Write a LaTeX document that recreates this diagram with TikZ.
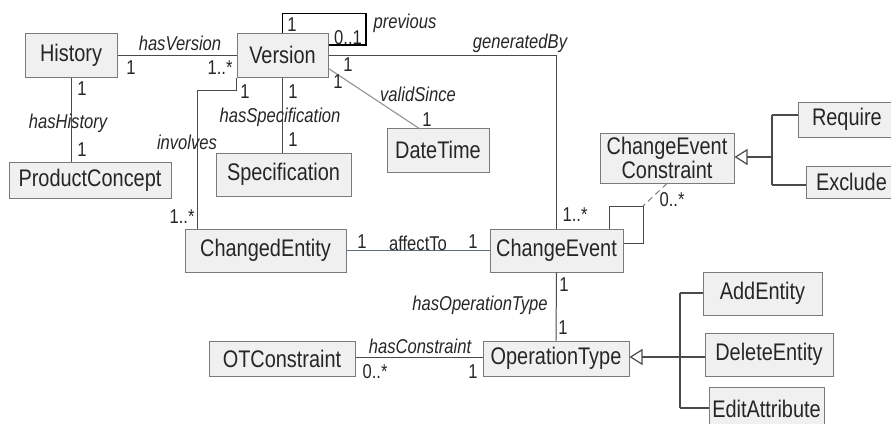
\documentclass[tikz,border=0pt]{standalone}
\usepackage{fontspec}
\setmainfont{Liberation Sans}[FakeStretch=0.83]
\usetikzlibrary{arrows.meta}
\definecolor{boxfill}{HTML}{F0F0F0}
\definecolor{boxline}{HTML}{7A7A7A}
\definecolor{wire}{HTML}{4A4A4A}
\definecolor{bluewire}{HTML}{5C6E7E}
\definecolor{txt}{HTML}{262626}
\tikzset{
  cls/.style={draw=boxline, fill=boxfill, line width=1pt, inner sep=0pt,
    text=txt, font=\fontsize{24}{26}\selectfont, align=center},
  assoc/.style={draw=wire, line width=1pt},
  role/.style={text=txt, inner sep=0pt, font=\fontsize{20}{22}\selectfont\itshape},
  mult/.style={text=txt, inner sep=0pt, font=\fontsize{20}{22}\selectfont},
  gen/.style={draw=wire, line width=1.2pt},
  genhead/.style={-{Triangle[open, length=13pt, width=16pt, line width=1.2pt]}},
}
\begin{document}
\begin{tikzpicture}[x=1pt, y=-1pt]
\useasboundingbox (0,0) rectangle (891,423);
\clip (0,0) rectangle (891,423);

% classes
\node[cls, minimum width=92pt,  minimum height=44pt] (History)  at (71,55)      {History};
\node[cls, minimum width=91pt,  minimum height=44pt] (Version)  at (282.5,55)   {Version};
\node[cls, minimum width=162pt, minimum height=36pt] (Product)  at (90,180)     {ProductConcept};
\node[cls, minimum width=135pt, minimum height=43pt] (Spec)     at (283.5,174.5){Specification};
\node[cls, minimum width=102pt, minimum height=44pt] (DateTime) at (438,150)    {DateTime};
\node[cls, minimum width=161pt, minimum height=43pt] (Changed)  at (265.5,250.5){ChangedEntity};
\node[cls, minimum width=133pt, minimum height=43pt] (Event)    at (556.5,250.5){ChangeEvent};
\node[cls, minimum width=134pt, minimum height=50pt, font=\fontsize{24}{24.5}\selectfont] (CEC) at (667,158) {ChangeEvent\\Constraint};
\node[cls, minimum width=110pt, minimum height=35pt, text width=100pt, align=left] (Require) at (853,119.5) {\hspace*{9pt}Require};
\node[cls, minimum width=104pt, minimum height=32pt, text width=96pt, align=left] (Exclude) at (858,182) {\hspace*{6pt}Exclude};
\node[cls, minimum width=146pt, minimum height=35pt] (OTC)      at (282,358.5)  {OTConstraint};
\node[cls, minimum width=146pt, minimum height=35pt] (OpType)   at (556,358.5)  {OperationType};
\node[cls, minimum width=119pt, minimum height=43pt] (AddE)     at (762.5,293.5){AddEntity};
\node[cls, minimum width=128pt, minimum height=43pt] (DelE)     at (769,354.5)  {DeleteEntity};
\node[cls, minimum width=115pt, minimum height=43pt] (EditA)    at (766.5,409)  {EditAttribute};

% associations
\draw[assoc] (History.east) -- (Version.west);
\draw[assoc] (History.south) -- (History.south |- Product.north);
\draw[draw=black, line width=1.5pt] (Version.north) -- ++(0,-19) -| (366,45) -- (Version.east |- 0,45);
\draw[assoc] (Version.south) -- (Version.south |- Spec.north);
\draw[draw=gray!80, line width=1.2pt] (Version.south east) ++(0,-9) -- (420,129);
\draw[assoc] (Version.east) -- (Version.east -| Event.north) -- (Event.north);
\draw[assoc] (Version.south west) -- ++(0,13) -| (197,229);
\draw[draw=bluewire, line width=1.1pt] (Changed.east) -- (Event.west);
\coordinate (loopc) at (643,206);
\draw[assoc] (609,229) |- (loopc) |- (Event.east |- 0,243);
\draw[draw=gray, line width=1pt, dash pattern=on 6pt off 4pt] (CEC.south) -- (loopc);
\draw[assoc] (Event.south) -- (OpType.north);
\draw[assoc] (OTC.east) ++(0,-1.5) -- (OpType.west |- 0,357);

% generalizations
\coordinate (g1) at (772,157);
\draw[gen, genhead] (g1) -- (CEC.east |- g1);
\draw[gen] (772,115) -- (772,185);
\draw[gen] (772,115) -- (Require.west |- 0,115);
\draw[gen] (772,185) -- (Exclude.west |- 0,185);
\coordinate (g2) at (680,357);
\draw[gen, genhead] (g2) -- (OpType.east |- g2);
\draw[gen] (680,293) -- (680,408);
\draw[gen] (680,293) -- (AddE.west |- 0,293);
\draw[gen] (680,357) -- (DelE.west |- 0,357);
\draw[gen] (680,408) -- (EditA.west |- 0,408);

% role names
\node[role] (rHasVersion) at (180,43) {hasVersion};
\node[role] (rPrevious)   at (405,23) {previous};
\node[role] (rHasHistory) at (68,123) {hasHistory};
\node[role] (rHasSpec)    at (280,117) {hasSpecification};
\node[role] (rInvolves)   at (187,142) {involves};
\node[role] (rValidSince) at (418,94) {validSince};
\node[role] (rGenerated)  at (520,43) {generatedBy};
\node[mult] (rAffect)     at (418,243) {affectTo};
\node[role] (rHasOpType)  at (480,305) {hasOperationType};
\node[role] (rHasConstr)  at (420,346) {hasConstraint};

% multiplicities
\node[mult] (m1)  at (131,68)  {1};
\node[mult] (m2)  at (220,68)  {1..*};
\node[mult] (m3)  at (292,25)  {1};
\node[mult] (m4)  at (348,38)  {0..1};
\node[mult] (m5)  at (82,89)   {1};
\node[mult] (m6)  at (82,150)  {1};
\node[mult] (m7)  at (245,92)  {1};
\node[mult] (m8)  at (293,92)  {1};
\node[mult] (m9)  at (293,140) {1};
\node[mult] (m10) at (348,65)  {1};
\node[mult] (m11) at (338,82)  {1};
\node[mult] (m12) at (427,120) {1};
\node[mult] (m13) at (182,217) {1..*};
\node[mult] (m14) at (362,242) {1};
\node[mult] (m15) at (473,242) {1};
\node[mult] (m16) at (575,215) {1..*};
\node[mult] (m17) at (672,200) {0..*};
\node[mult] (m18) at (564,285) {1};
\node[mult] (m19) at (563,328) {1};
\node[mult] (m20) at (375,372) {0..*};
\node[mult] (m21) at (473,372) {1};
\end{tikzpicture}
\end{document}
